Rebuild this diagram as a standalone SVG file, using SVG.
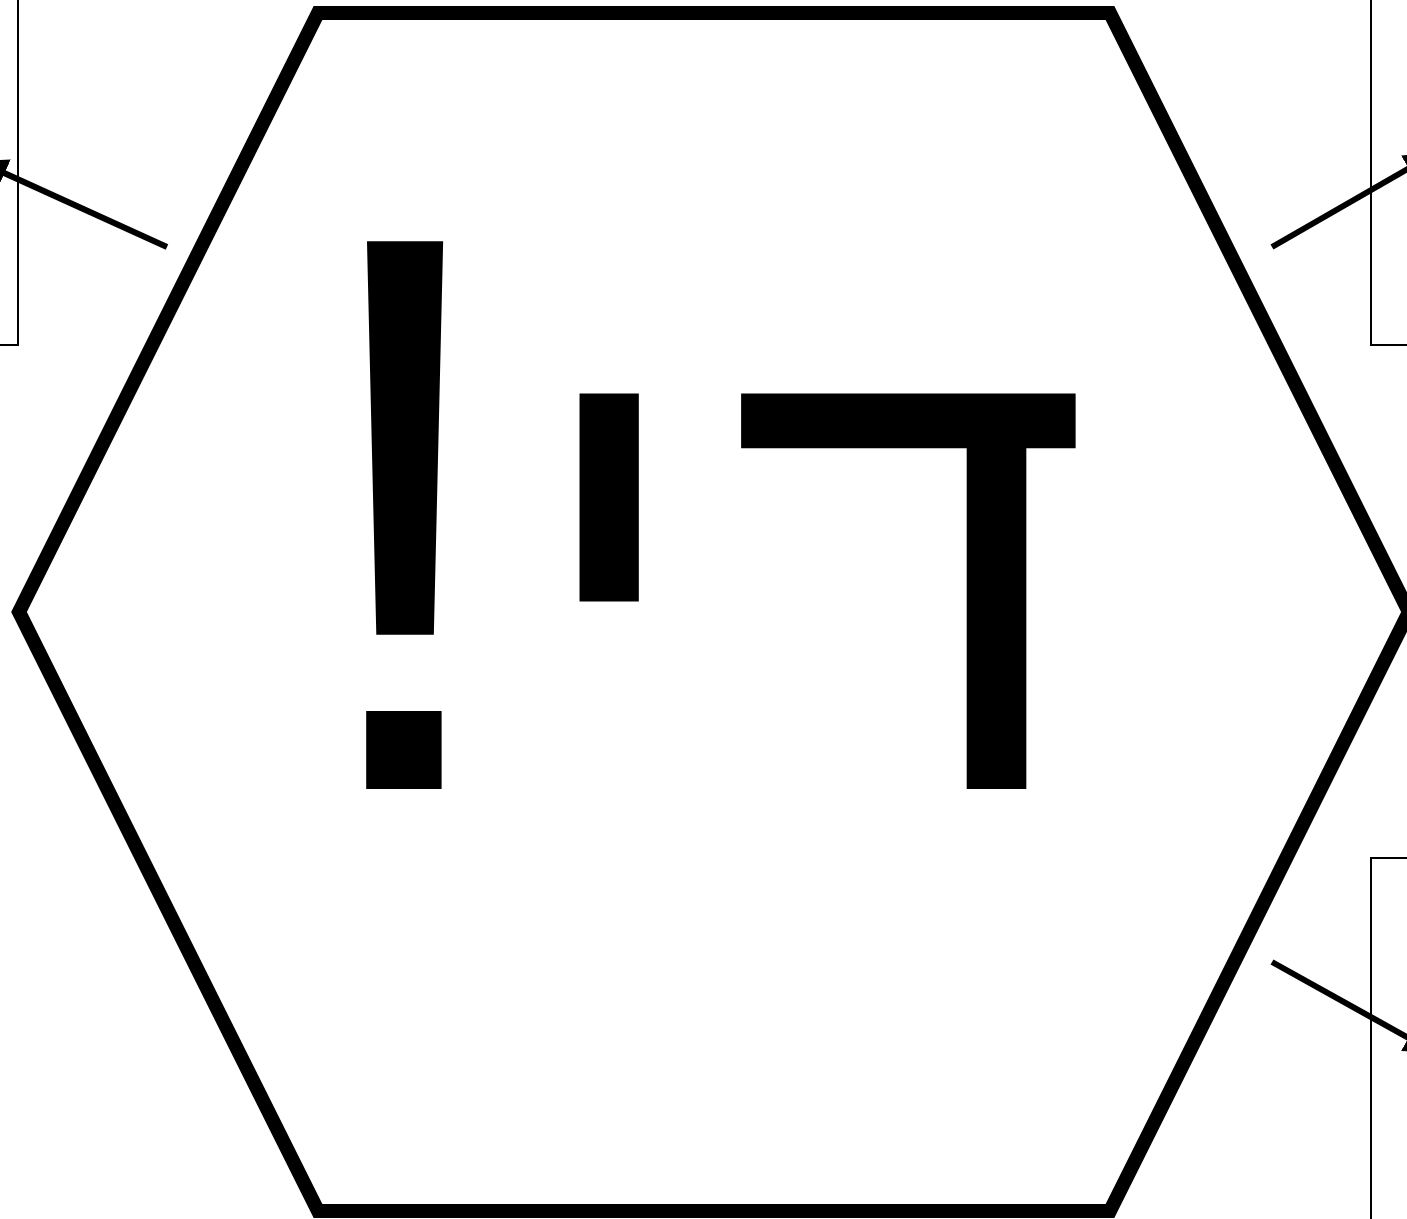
<svg xmlns="http://www.w3.org/2000/svg" width="1407" height="1219" viewBox="0 0 1407 1219">
<style>
.hex{fill:#fff;stroke:#000;stroke-width:14;stroke-linejoin:miter}
.box{fill:#fff;stroke:#000;stroke-width:2}
.edge{fill:none;stroke:#000;stroke-width:6;marker-end:url(#arr)}
.lbl{font-family:"Liberation Sans",Arial,sans-serif;fill:#000}
.heb{font-size:660px}
.bang{font-size:796px}
</style>
<defs>
<marker id="arr" viewBox="0 0 10 10" refX="9" refY="5" markerWidth="5" markerHeight="5" markerUnits="strokeWidth" orient="auto">
<path d="M0,0 L10,5 L0,10 Z" fill="#000"/>
</marker>
</defs>
<g id="node-left"><rect class="box" x="-200" y="-20" width="218" height="365"/></g>
<g id="node-right-top"><rect class="box" x="1371" y="-20" width="200" height="365"/></g>
<g id="node-right-bottom"><rect class="box" x="1371" y="858" width="200" height="400"/></g>
<g id="connectors">
<line class="edge" x1="167" y1="247" x2="-20" y2="162"/>
<line class="edge" x1="1272" y1="247" x2="1432" y2="155"/>
<line class="edge" x1="1272" y1="962" x2="1432" y2="1051"/>
</g>
<g id="node-hex">
<polygon class="hex" points="318,13 1110,13 1409,612 1110,1211 318,1211 19,612"/>
<text class="lbl" x="694" y="789" text-anchor="middle" direction="rtl"><tspan class="heb">ד</tspan><tspan class="heb" dx="-33">י</tspan><tspan class="bang" dx="-8">!</tspan></text>
</g>
</svg>
